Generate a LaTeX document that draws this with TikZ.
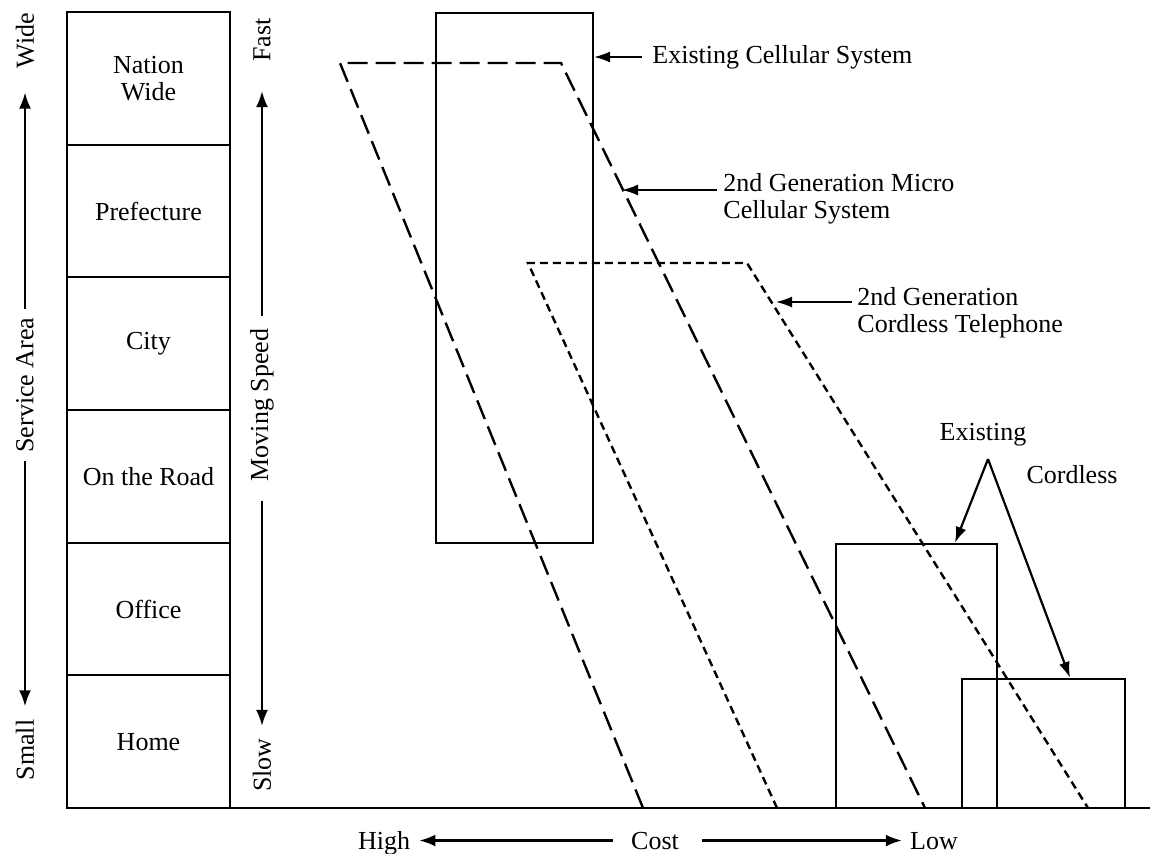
\documentclass[tikz,border=0pt]{standalone}
\usepackage{fontspec}
\setmainfont{Liberation Serif}
\usetikzlibrary{arrows.meta}
\begin{document}
\begin{tikzpicture}[x=0.5pt,y=-0.5pt,
  every node/.style={font=\fontsize{13}{13.5}\selectfont, inner sep=0pt},
  cell/.style={draw, line width=1.1pt, minimum width=81.5pt, minimum height=66.33pt, align=center},
  box/.style={draw, line width=1.1pt},
  vlabel/.style={rotate=90},
  longdash/.style={line width=1.2pt, dash pattern=on 10pt off 4pt},
  shortdash/.style={line width=1.2pt, dash pattern=on 4pt off 2.5pt},
  pointer/.style={line width=0.8pt, -{Latex[length=8pt,width=5.5pt]}},
  axisarrow/.style={line width=1.1pt, -{Latex[length=8pt,width=6pt]}},
  cordarrow/.style={line width=1.1pt, -{Latex[length=8pt,width=5.5pt]}},
]
\fill[white] (0,0) rectangle (1150,853);
\useasboundingbox (0,0) rectangle (1150,853);

% service area column
\node[cell] (nation) at (148.5,78.33)  {Nation\\Wide};
\node[cell] (pref)   at (148.5,211)    {Prefecture};
\node[cell] (city)   at (148.5,343.67) {City};
\node[cell] (road)   at (148.5,476.33) {On the Road};
\node[cell] (office) at (148.5,609)    {Office};
\node[cell] (home)   at (148.5,741.67) {Home};

% service area axis
\node[vlabel] (wide)    at (25,40.5) {Wide};
\node[vlabel] (service) at (25,385)  {Service Area};
\node[vlabel] (small)   at (25,750)  {Small};
\draw[axisarrow, shorten >=12pt] ([yshift=4pt]service.east) -- (wide.west);
\draw[axisarrow, shorten >=6.5pt] ([yshift=-4pt]service.west) -- (small.east);

% moving speed axis
\node[vlabel] (fast)   at (262,40)  {Fast};
\node[vlabel] (speed)  at (262,405) {Moving Speed};
\node[vlabel] (slow)   at (262,765) {Slow};
\draw[axisarrow, shorten >=14.5pt] ([yshift=6pt]speed.east) -- (fast.west);
\draw[axisarrow, shorten >=6pt] ([yshift=-9.5pt]speed.west) -- (slow.east);

% cost axis
\coordinate (origin) at (230,808);
\coordinate (axisend) at (1150,808);
\draw[line width=1.3pt] (origin) -- (axisend);
\node[anchor=base] (high) at (384,849) {High};
\node[anchor=base] (cost) at (655,849) {Cost};
\node[anchor=base] (low)  at (934,849) {Low};
\draw[axisarrow, shorten >=4.5pt] ([xshift=-9pt]cost.west) -- (high.east |- cost.west);
\draw[axisarrow, shorten >=4pt] ([xshift=11.5pt]cost.east) -- (low.west |- cost.east);

% existing cellular system
\node[box, minimum width=78.5pt, minimum height=265pt] (cellular) at (514.5,278) {};
% 2nd generation micro cellular system
\draw[longdash] (643,808) -- (340,63) -- (561,63) -- (925,808);
% 2nd generation cordless telephone
\draw[shortdash] (777,808) -- (528,263) -- (747,263) -- (1088,808);
% existing cordless
\node[box, minimum width=80.5pt, minimum height=132pt] (bigcord) at (916.5,676) {};
\node[box, minimum width=81.5pt, minimum height=64.5pt] (smallcord) at (1043.5,743.5) {};

% labels and pointers
\node[anchor=west] (ecs) at (652,57) {Existing Cellular System};
\draw[pointer] ([xshift=-5pt]ecs.west) -- (ecs.west -| cellular.east);

\node[anchor=base west, align=left] (micro) at (723,218) {2nd Generation Micro\\Cellular System};
\coordinate (microtip) at (622,190);
\draw[pointer] ([xshift=-3pt]micro.west |- microtip) -- (microtip);

\node[anchor=base west, align=left] (cordless) at (857,332) {2nd Generation\\Cordless Telephone};
\coordinate (cordtip) at (776,302);
\draw[pointer] ([xshift=-2.5pt]cordless.west |- cordtip) -- (cordtip);

\node (existing) at (983,435) {Existing};
\node (cordlbl)  at (1072,475) {Cordless};
\coordinate (apex) at (988,459);
\draw[cordarrow] (apex) -- ([xshift=19.25pt]bigcord.north);
\draw[cordarrow] (apex) -- ([xshift=13.25pt]smallcord.north);
\end{tikzpicture}
\end{document}
